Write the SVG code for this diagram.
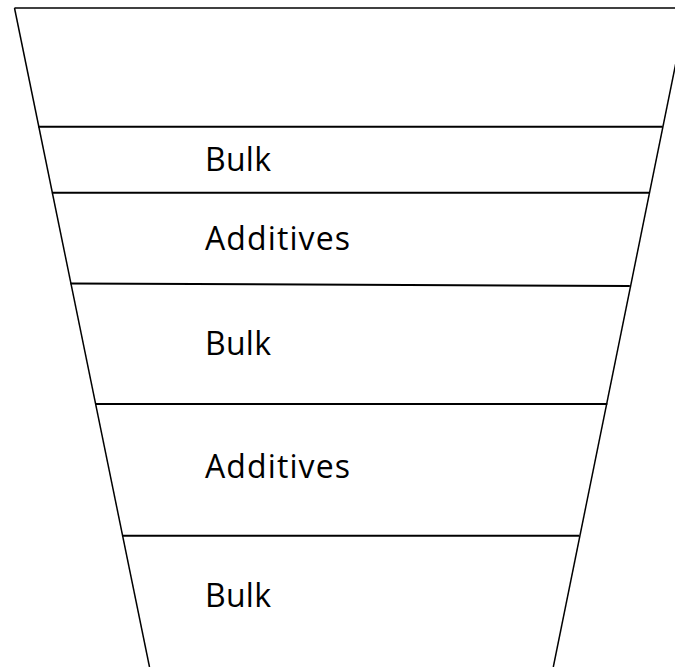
<svg xmlns="http://www.w3.org/2000/svg" width="675" height="667" viewBox="0 0 675 667">
<style>
.edge{stroke:#000;stroke-width:1.5;fill:none}
.sep{stroke:#000;stroke-width:2;fill:none}
.lbl{font-family:"Open Sans","Liberation Sans",sans-serif;font-size:32px;fill:#000}
</style>
<rect width="675" height="667" fill="#fff"/>
<g id="funnel">
<line class="edge" x1="14.5" y1="8" x2="675" y2="8"/>
<line class="edge" x1="14.5" y1="8" x2="149.5" y2="667"/>
<line class="edge" x1="687" y1="8" x2="553.3" y2="667"/>
</g>
<g id="connectors">
<line class="sep" x1="38.3" y1="126.7" x2="662.7" y2="126.7"/>
<line class="sep" x1="51.9" y1="192.7" x2="649.3" y2="192.7"/>
<line class="sep" x1="70.5" y1="283.5" x2="629.8" y2="286"/>
<line class="sep" x1="95.2" y1="404" x2="607.3" y2="404"/>
<line class="sep" x1="122.2" y1="535.7" x2="579.3" y2="535.7"/>
</g>
<g id="layer1"><text class="lbl" x="205" y="170.7" textLength="66" lengthAdjust="spacing">Bulk</text></g>
<g id="layer2"><text class="lbl" x="205" y="250" textLength="145" lengthAdjust="spacing">Additives</text></g>
<g id="layer3"><text class="lbl" x="205" y="355" textLength="66" lengthAdjust="spacing">Bulk</text></g>
<g id="layer4"><text class="lbl" x="205" y="478.3" textLength="145" lengthAdjust="spacing">Additives</text></g>
<g id="layer5"><text class="lbl" x="205" y="606.7" textLength="66" lengthAdjust="spacing">Bulk</text></g>
</svg>
